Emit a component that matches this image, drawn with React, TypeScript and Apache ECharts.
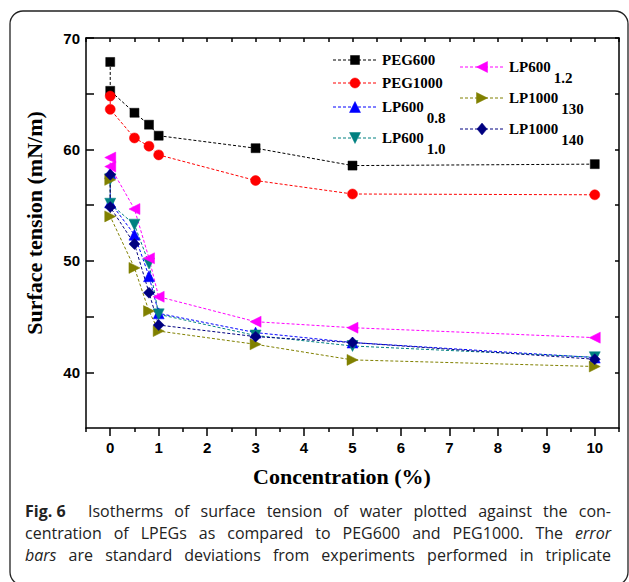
import React, { useEffect, useRef } from "react";
import * as echarts from "echarts";

const concentrations = [0, 0, 0.5, 0.8, 1, 3, 5, 10];
const peg600 = [67.85, 65.26, 63.29, 62.22, 61.23, 60.11, 58.55, 58.68];
const peg1000 = [64.79, 63.6, 61.03, 60.29, 59.51, 57.21, 56.0, 55.93];
const lp600_08 = [57.87, 55.24, 52.35, 48.62, 45.29, 43.56, 42.67, 41.32];
const lp600_10 = [57.33, 55.13, 53.25, 49.76, 45.2, 43.3, 42.36, 41.35];
const lp600_12 = [59.27, 58.46, 54.65, 50.23, 46.78, 44.54, 44.0, 43.11];
const lp1000_130 = [57.27, 53.99, 49.37, 45.49, 43.7, 42.51, 41.11, 40.52];
const lp1000_140 = [57.72, 54.83, 51.51, 47.14, 44.24, 43.2, 42.67, 41.17];

const seriesNames = ["PEG600", "PEG1000", "LP600", "LP600", "LP600", "LP1000", "LP1000"];
const seriesSubs = ["", "", "0.8", "1.0", "1.2", "130", "140"];
const seriesValues = [peg600, peg1000, lp600_08, lp600_10, lp600_12, lp1000_130, lp1000_140];
const seriesColors = ["#000000", "#ff0000", "#0000ff", "#008080", "#ff00ff", "#808000", "#000080"];
const seriesSymbols = ["rect", "circle", "triangle", "triangle", "triangle", "triangle", "diamond"];
const seriesRotate = [0, 0, 0, 180, 90, -90, 0];
const seriesSizes = [9, 10, 11, 11, 11, 11, 11];

const xLabelTicks = [0, 1, 2, 3, 4, 5, 6, 7, 8, 9, 10];
const xHalfTicks = [-0.5, 0.5, 1.5, 2.5, 3.5, 4.5, 5.5, 6.5, 7.5, 8.5, 9.5, 10.5];
const yLabelTicks = [40, 50, 60, 70];
const yAllTicks = [40, 45, 50, 55, 60, 65, 70];

const xTitle = "Concentration (%)";
const yTitle = "Surface tension (mN/m)";

// caption lines: each word with its style (n normal, b bold, i italic)
const captionLines: [string, string][][] = [
  [["Fig. 6", "b"], ["Isotherms", "n"], ["of", "n"], ["surface", "n"], ["tension", "n"], ["of", "n"], ["water", "n"], ["plotted", "n"], ["against", "n"], ["the", "n"], ["con-", "n"]],
  [["centration", "n"], ["of", "n"], ["LPEGs", "n"], ["as", "n"], ["compared", "n"], ["to", "n"], ["PEG600", "n"], ["and", "n"], ["PEG1000.", "n"], ["The", "n"], ["error", "i"]],
  [["bars", "i"], ["are", "n"], ["standard", "n"], ["deviations", "n"], ["from", "n"], ["experiments", "n"], ["performed", "n"], ["in", "n"], ["triplicate", "n"]],
];

const SERIF = '"Liberation Serif", "Times New Roman", serif';
const SANS = '"Liberation Sans", Arial, sans-serif';
const CAP = '"Open Sans", "Noto Sans", sans-serif';

// legend layout: [x of line start, y center] for each series
const legendPos = [
  [333, 60],
  [333, 83],
  [333, 107],
  [333, 138],
  [460, 67],
  [460, 98],
  [460, 129],
];

function measure(text: string, font: string) {
  const c = document.createElement("canvas").getContext("2d");
  if (!c) return text.length * 8;
  c.font = font;
  return c.measureText(text).width;
}

function markerGraphic(sym: string, rot: number, cx: number, cy: number, color: string) {
  const style = { fill: color, stroke: color, lineWidth: 0.5 };
  if (sym === "rect") return { type: "rect", shape: { x: cx - 4.5, y: cy - 4.5, width: 9, height: 9 }, style };
  if (sym === "circle") return { type: "circle", shape: { cx, cy, r: 5 }, style };
  if (sym === "diamond")
    return { type: "polygon", shape: { points: [[cx, cy - 6], [cx + 5, cy], [cx, cy + 6], [cx - 5, cy]] }, style };
  let pts: number[][] = [];
  const s = 5.5;
  if (rot === 0) pts = [[cx, cy - s], [cx + s, cy + s], [cx - s, cy + s]];
  else if (rot === 180) pts = [[cx, cy + s], [cx + s, cy - s], [cx - s, cy - s]];
  else if (rot === 90) pts = [[cx - s, cy], [cx + s, cy - s], [cx + s, cy + s]];
  else pts = [[cx + s, cy], [cx - s, cy - s], [cx - s, cy + s]];
  return { type: "polygon", shape: { points: pts }, style };
}

export default function App() {
  const ref = useRef<HTMLDivElement>(null);
  useEffect(() => {
    if (!ref.current) return;
    const chart = echarts.init(ref.current, undefined, { renderer: "svg" });

    const legendFont = `bold 15px ${SERIF}`;
    const graphics: any[] = [];
    // outer rounded border
    graphics.push({
      type: "rect",
      shape: { x: 10, y: 11, width: 618, height: 574, r: 13 },
      style: { fill: "none", stroke: "#222", lineWidth: 1.3 },
      z: -1,
    });
    seriesNames.forEach((name, i) => {
      const [lx, ly] = legendPos[i];
      graphics.push({
        type: "line",
        shape: { x1: lx, y1: ly, x2: lx + 45, y2: ly },
        style: { stroke: seriesColors[i], lineWidth: 1, lineDash: [3, 2] },
      });
      graphics.push(markerGraphic(seriesSymbols[i], seriesRotate[i], lx + 22, ly, seriesColors[i]));
      graphics.push({
        type: "text",
        x: lx + 49,
        y: ly,
        style: { text: name, font: legendFont, fill: "#000", verticalAlign: "middle" },
      });
      if (seriesSubs[i]) {
        const w = measure(name, legendFont);
        graphics.push({
          type: "text",
          x: lx + 49 + w + 3,
          y: ly + 11,
          style: { text: seriesSubs[i], font: legendFont, fill: "#000", verticalAlign: "middle" },
        });
      }
    });
    // axis titles
    graphics.push({
      type: "text",
      x: 342,
      y: 476,
      style: { text: xTitle, font: `bold 22px ${SERIF}`, fill: "#000", align: "center", verticalAlign: "middle" },
    });
    graphics.push({
      type: "text",
      x: 34,
      y: 223,
      rotation: Math.PI / 2,
      style: { text: yTitle, font: `bold 22px ${SERIF}`, fill: "#000", align: "center", verticalAlign: "middle" },
    });
    // caption, justified between left and right edges
    const capFonts: Record<string, string> = {
      n: `16px ${CAP}`,
      b: `bold 16px ${CAP}`,
      i: `italic 16px ${CAP}`,
    };
    const capLeft = 25;
    const capRight = 611;
    const capY = [511, 533, 555];
    captionLines.forEach((words, k) => {
      const widths = words.map(([t, s]) => measure(t, capFonts[s]));
      const total = widths.reduce((a, b) => a + b, 0);
      // first gap after "Fig. 6" counts double
      const gapWeights = words.slice(1).map((_, g) => (k === 0 && g === 0 ? 2 : 1));
      const wsum = gapWeights.reduce((a, b) => a + b, 0);
      const unit = (capRight - capLeft - total) / wsum;
      let x = capLeft;
      words.forEach(([t, s], j) => {
        graphics.push({
          type: "text",
          x,
          y: capY[k],
          style: { text: t, font: capFonts[s], fill: "#222", verticalAlign: "middle" },
        });
        x += widths[j] + (j < gapWeights.length ? gapWeights[j] * unit : 0);
      });
    });

    const axisLine = { show: true, onZero: false, lineStyle: { color: "#000", width: 1.5 } };
    const option: any = {
      animation: false,
      backgroundColor: "#fff",
      grid: { left: 86, right: 10, top: 38, bottom: 154 },
      xAxis: [
        {
          type: "value",
          position: "bottom",
          min: -0.5,
          max: 10.5,
          axisLine,
          splitLine: { show: false },
          axisTick: { show: true, customValues: xLabelTicks, length: 8, lineStyle: { color: "#000", width: 1.5 } },
          axisLabel: {
            customValues: xLabelTicks,
            margin: 12,
            fontFamily: SANS,
            fontWeight: "bold",
            fontSize: 15,
            color: "#000",
          },
        },
        {
          type: "value",
          position: "bottom",
          min: -0.5,
          max: 10.5,
          axisLine: { show: false, onZero: false },
          splitLine: { show: false },
          axisTick: { show: true, customValues: xHalfTicks, length: 4, lineStyle: { color: "#000", width: 1.5 } },
          axisLabel: { show: false },
        },
        {
          type: "value",
          position: "top",
          min: -0.5,
          max: 10.5,
          axisLine,
          splitLine: { show: false },
          axisTick: {
            show: true,
            inside: true,
            customValues: [...xLabelTicks, ...xHalfTicks],
            length: 4,
            lineStyle: { color: "#000", width: 1.5 },
          },
          axisLabel: { show: false },
        },
      ],
      yAxis: [
        {
          type: "value",
          position: "left",
          min: 35,
          max: 70,
          axisLine,
          splitLine: { show: false },
          axisTick: { show: true, inside: true, customValues: yAllTicks, length: 8, lineStyle: { color: "#000", width: 1.5 } },
          axisLabel: {
            customValues: yLabelTicks,
            margin: 6,
            fontFamily: SANS,
            fontWeight: "bold",
            fontSize: 15,
            color: "#000",
          },
        },
        {
          type: "value",
          position: "right",
          min: 35,
          max: 70,
          axisLine,
          splitLine: { show: false },
          axisTick: { show: true, inside: true, customValues: yAllTicks, length: 4, lineStyle: { color: "#000", width: 1.5 } },
          axisLabel: { show: false },
        },
      ],
      series: seriesValues.map((vals, i) => ({
        type: "line",
        name: seriesNames[i] + seriesSubs[i],
        xAxisIndex: 0,
        yAxisIndex: 0,
        data: vals.map((v, k) => [concentrations[k], v]),
        symbol: seriesSymbols[i],
        symbolRotate: seriesRotate[i],
        symbolSize: seriesSizes[i],
        showAllSymbol: true,
        lineStyle: { color: seriesColors[i], width: 1, type: [3, 2] },
        itemStyle: { color: seriesColors[i], borderColor: seriesColors[i], borderWidth: 0.5 },
        emphasis: { disabled: true },
        z: 3,
      })),
      graphic: graphics,
    };
    chart.setOption(option);
    return () => chart.dispose();
  }, []);
  return (
    <div
      ref={ref}
      style={{ position: "fixed", left: 0, top: 0, width: 629, height: 582, background: "#fff" }}
    />
  );
}
